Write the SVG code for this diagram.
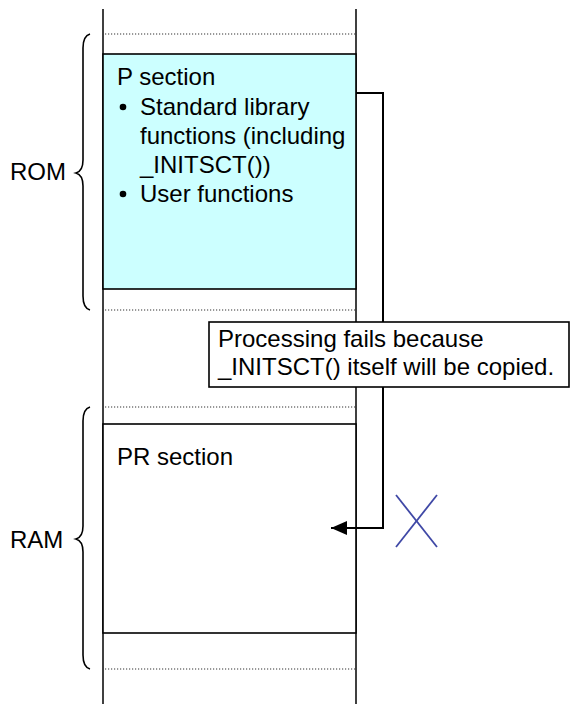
<svg xmlns="http://www.w3.org/2000/svg" width="570" height="704" viewBox="0 0 570 704">
  <style>
    text { font-family: "Liberation Sans", Arial, sans-serif; font-size: 24px; fill: #000; }
    .rail { stroke: #000; stroke-width: 1.5; fill: none; }
    .dots { stroke: #333; stroke-width: 1.2; stroke-dasharray: 1.2 1.8; fill: none; }
    .brace { stroke: #000; stroke-width: 1.6; fill: none; }
    .sect { stroke: #000; stroke-width: 1.6; }
    .wire { stroke: #000; stroke-width: 2; fill: none; }
  </style>
  <defs>
    <marker id="head" viewBox="0 0 16 14" refX="16" refY="7" markerWidth="16" markerHeight="14" markerUnits="userSpaceOnUse" orient="auto">
      <path d="M0,0 L16,7 L0,14 Z" fill="#000"/>
    </marker>
  </defs>

  <!-- memory map rails -->
  <g id="memory-map">
    <line class="rail" x1="103" y1="9" x2="103" y2="704"/>
    <line class="rail" x1="356" y1="9" x2="356" y2="704"/>
    <line class="dots" x1="105" y1="34" x2="355" y2="34"/>
    <line class="dots" x1="105" y1="310" x2="355" y2="310"/>
    <line class="dots" x1="105" y1="407" x2="355" y2="407"/>
    <line class="dots" x1="105" y1="669" x2="355" y2="669"/>
  </g>

  <!-- ROM area -->
  <g id="rom-label">
    <path class="brace" d="M90,34 Q83,36 83,48 L83,160 Q83,171 76,173 Q83,175 83,186 L83,296 Q83,308 90,310"/>
    <text x="10" y="180">ROM</text>
  </g>

  <g id="p-section">
    <rect class="sect" x="103" y="54" width="253" height="235" fill="#CCFFFF"/>
    <text x="117" y="85">P section</text>
    <circle cx="123" cy="107" r="3.3" fill="#000"/>
    <text x="140" y="115">Standard library</text>
    <text x="140" y="144">functions (including</text>
    <text x="140" y="173">_INITSCT())</text>
    <circle cx="123" cy="194" r="3.3" fill="#000"/>
    <text x="140" y="202">User functions</text>
  </g>

  <!-- RAM area -->
  <g id="ram-label">
    <path class="brace" d="M90,407 Q83,409 83,421 L83,526 Q83,537 76,539 Q83,541 83,552 L83,655 Q83,667 90,669"/>
    <text x="10" y="548">RAM</text>
  </g>

  <g id="pr-section">
    <rect class="sect" x="103" y="424" width="253" height="209" fill="#FFFFFF"/>
    <text x="117" y="465">PR section</text>
  </g>

  <!-- copy path from P to PR -->
  <g id="connectors">
    <path class="wire" d="M356,93 L383,93 L383,528 L331,528" marker-end="url(#head)"/>
  </g>

  <g id="note">
    <rect x="209" y="322" width="360" height="65" fill="#FFFFFF" stroke="#000" stroke-width="1.6"/>
    <text x="218" y="347">Processing fails because</text>
    <text x="218" y="375">_INITSCT() itself will be copied.</text>
  </g>

  <g id="fail-mark">
    <line x1="396" y1="495" x2="437" y2="547" stroke="#3F48A6" stroke-width="1.8"/>
    <line x1="437" y1="495" x2="396" y2="547" stroke="#3F48A6" stroke-width="1.8"/>
  </g>
</svg>
